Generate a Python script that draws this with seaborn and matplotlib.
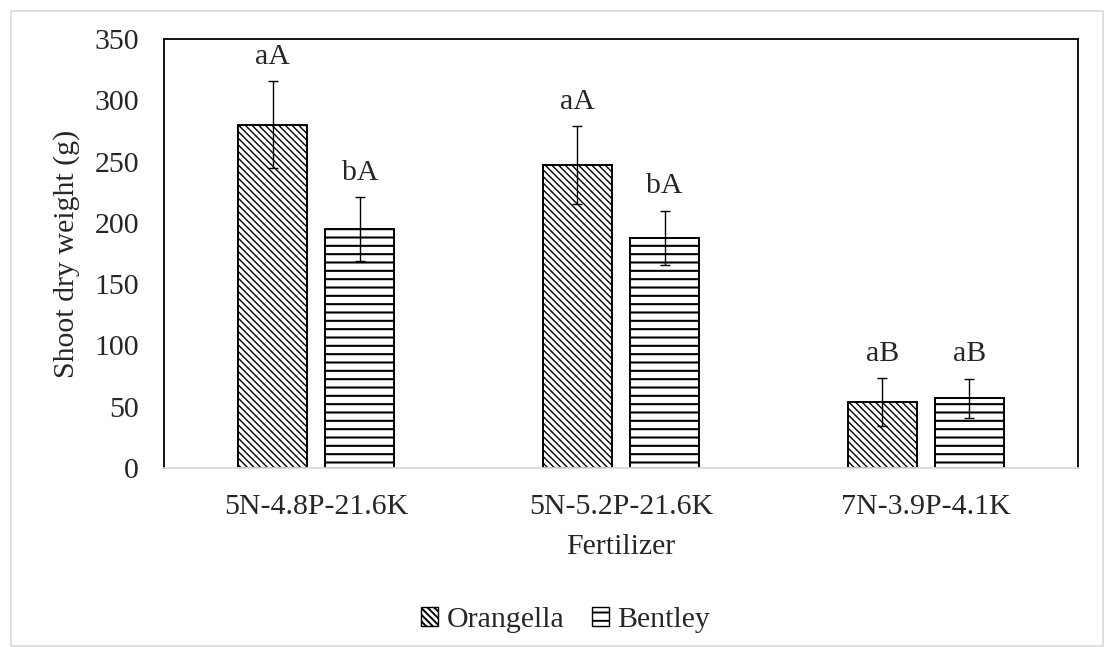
import pandas as pd
import seaborn as sns
import matplotlib
matplotlib.use('Agg')
from matplotlib import pyplot as plt
from matplotlib.patches import Rectangle

# values
fertilizers = ['5N-4.8P-21.6K', '5N-5.2P-21.6K', '7N-3.9P-4.1K']
cultivars = ['Orangella', 'Bentley']
orangella_mean = [280, 247, 54]
orangella_err = [35.5, 32, 19.5]
bentley_mean = [195, 188, 57]
bentley_err = [26, 22, 16]
orangella_letters = ['aA', 'aA', 'aB']
bentley_letters = ['bA', 'bA', 'aB']

sns.set_style('white')
plt.rcParams['font.family'] = ['Liberation Serif', 'DejaVu Serif']
plt.rcParams['hatch.linewidth'] = 1.4
plt.rcParams['hatch.color'] = 'black'
fs = 21.5

df = pd.DataFrame({
    'Fertilizer': fertilizers * 2,
    'Cultivar': ['Orangella'] * 3 + ['Bentley'] * 3,
    'weight': orangella_mean + bentley_mean,
})
errs = orangella_err + bentley_err
letters = orangella_letters + bentley_letters

fig = plt.figure(figsize=(11.05, 6.47), dpi=100)
ax = fig.add_axes([0.1484, 0.2767, 0.8272, 0.663])

sns.barplot(data=df, x='Fertilizer', y='weight', hue='Cultivar', hue_order=cultivars,
            palette=['white', 'white'], width=0.572, gap=0.21, edgecolor='black',
            linewidth=1.4, errorbar=None, legend=False, ax=ax)

hatches = ['\\' * 5, '--']
hatch_lw = [1.0, 1.5]
bars = ax.patches
for i, bar in enumerate(bars):
    bar.set_hatch(hatches[i // 3])
    if hasattr(bar, 'set_hatch_linewidth'):
        bar.set_hatch_linewidth(hatch_lw[i // 3])
    x = bar.get_x() + bar.get_width() / 2
    h = bar.get_height()
    ax.errorbar(x, h, yerr=errs[i], color='black', elinewidth=1, capsize=3.6, capthick=1)
    ax.annotate(letters[i], (x, h + errs[i]), xytext=(0, 8), textcoords='offset points',
                ha='center', va='bottom', fontsize=fs)

ax.set_ylim(0, 350)
ax.set_yticks(range(0, 351, 50))
ax.set_xlim(-0.5, 2.5)
ax.set_ylabel('Shoot dry weight (g)', fontsize=fs, labelpad=10)
ax.set_xlabel('Fertilizer', fontsize=fs, labelpad=10)
ax.tick_params(axis='both', length=0, labelsize=fs)
ax.tick_params(axis='y', pad=18)
ax.tick_params(axis='x', pad=19)
for side in ['left', 'top', 'right']:
    ax.spines[side].set_color('black')
    ax.spines[side].set_linewidth(1.3)
ax.spines['bottom'].set_color('#d9d9d9')
ax.spines['bottom'].set_linewidth(1.3)

handles = [Rectangle((0, 0), 1, 1, facecolor='white', edgecolor='black', hatch=h, linewidth=1)
           for h in hatches]
fig.legend(handles, cultivars, loc='center', bbox_to_anchor=(0.512, 0.0417), ncol=2,
           frameon=False, fontsize=fs, handlelength=0.57, handleheight=0.57,
           handletextpad=0.3, columnspacing=0.9, borderpad=0, borderaxespad=0)

# light outer border of the chart area
fig.patches.append(Rectangle((0.01, 0.0015), 0.988, 0.982, transform=fig.transFigure,
                             fill=False, edgecolor='#d9d9d9', linewidth=1.2))

plt.savefig('out.png', dpi=100)
